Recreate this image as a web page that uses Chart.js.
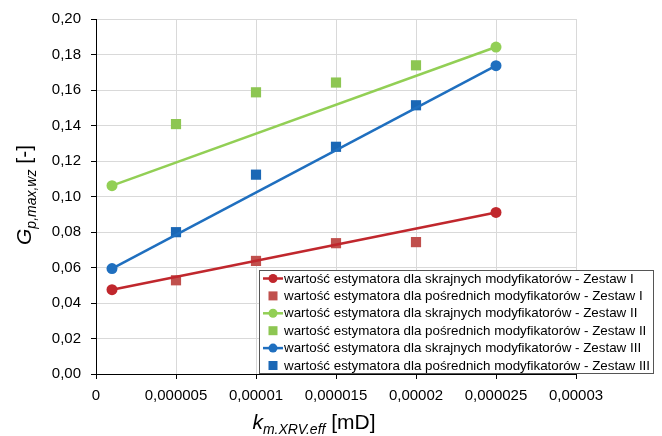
<!DOCTYPE html>
<html>
<head>
<meta charset="utf-8">
<script src="https://cdn.jsdelivr.net/npm/chart.js@4"></script>
<style>
html,body{margin:0;padding:0;background:#fff;}
#wrap{width:662px;height:436px;position:relative;}
</style>
</head>
<body>
<div id="wrap"><canvas id="c" width="662" height="436"></canvas></div>
<script>
// ---- data ----
const xTickLabels = ['0', '0,000005', '0,00001', '0,000015', '0,00002', '0,000025', '0,00003'];
const yTickLabels = ['0,00', '0,02', '0,04', '0,06', '0,08', '0,10', '0,12', '0,14', '0,16', '0,18', '0,20'];
const xExtreme = [0.000001, 0.000025];
const xMid = [0.000005, 0.00001, 0.000015, 0.00002];
const skrajneI = [0.0475, 0.0910];
const posrednieI = [0.0528, 0.0637, 0.0737, 0.0743];
const skrajneII = [0.1061, 0.1842];
const posrednieII = [0.1408, 0.1587, 0.1642, 0.1739];
const skrajneIII = [0.0594, 0.1737];
const posrednieIII = [0.0799, 0.1123, 0.1280, 0.1514];
const seriesLabels = [
  'wartość estymatora dla skrajnych modyfikatorów - Zestaw I',
  'wartość estymatora dla pośrednich modyfikatorów - Zestaw I',
  'wartość estymatora dla skrajnych modyfikatorów - Zestaw II',
  'wartość estymatora dla pośrednich modyfikatorów - Zestaw II',
  'wartość estymatora dla skrajnych modyfikatorów - Zestaw III',
  'wartość estymatora dla pośrednich modyfikatorów - Zestaw III'
];

const FONT = '"Liberation Sans", Arial, sans-serif';
const pts = (xs, ys) => xs.map((x, i) => ({x: x, y: ys[i]}));

function lineSet(label, xs, ys, color) {
  return {label, data: pts(xs, ys), showLine: true, borderColor: color, backgroundColor: color,
    borderWidth: 2.5, pointStyle: 'circle', pointRadius: 5.5, pointHoverRadius: 5.5,
    pointBorderWidth: 0, isLine: true};
}
function markSet(label, xs, ys, color) {
  return {label, data: pts(xs, ys), showLine: false, borderColor: color, backgroundColor: color,
    pointStyle: 'rect', pointRadius: 7.2, pointHoverRadius: 7.2, pointBorderWidth: 0, isLine: false};
}

const datasets = [
  lineSet(seriesLabels[0], xExtreme, skrajneI, '#C0272D'),
  markSet(seriesLabels[1], xMid, posrednieI, '#C0504D'),
  lineSet(seriesLabels[2], xExtreme, skrajneII, '#92CF55'),
  markSet(seriesLabels[3], xMid, posrednieII, '#8DC652'),
  lineSet(seriesLabels[4], xExtreme, skrajneIII, '#1F6FBF'),
  markSet(seriesLabels[5], xMid, posrednieIII, '#1A67B5')
];

function drawRich(ctx, parts) {
  let total = 0;
  parts.forEach(p => { ctx.font = p.font; p.w = ctx.measureText(p.text).width; total += p.w; });
  let x = -total / 2;
  parts.forEach(p => {
    ctx.font = p.font;
    ctx.fillText(p.text, x, p.dy || 0);
    x += p.w;
  });
}

const overlay = {
  id: 'overlay',
  afterDraw(chart) {
    const ctx = chart.ctx;
    ctx.save();
    ctx.fillStyle = '#000';
    ctx.textAlign = 'left';
    ctx.textBaseline = 'alphabetic';
    // y title
    ctx.save();
    ctx.translate(31, 195);
    ctx.rotate(-Math.PI / 2);
    drawRich(ctx, [
      {text: 'G', font: 'italic 21px ' + FONT},
      {text: 'p,max,wz', font: 'italic 14px ' + FONT, dy: 5},
      {text: ' [-]', font: '21px ' + FONT}
    ]);
    ctx.restore();
    // x title
    ctx.save();
    ctx.translate(314, 429);
    drawRich(ctx, [
      {text: 'k', font: 'italic 21px ' + FONT},
      {text: 'm.XRV.eff', font: 'italic 14px ' + FONT, dy: 5},
      {text: ' [mD]', font: '21px ' + FONT}
    ]);
    ctx.restore();

    // legend
    const bx = 259.5, by = 270.5, bw = 394, bh = 103;
    ctx.fillStyle = '#fff';
    ctx.fillRect(bx, by, bw, bh);
    ctx.strokeStyle = '#555';
    ctx.lineWidth = 1;
    ctx.strokeRect(bx, by, bw, bh);
    ctx.font = '12px ' + FONT;
    const m = ctx.measureText(seriesLabels[0]).width;
    const fs = 12 * 350 / m;
    ctx.font = fs.toFixed(2) + 'px ' + FONT;
    ctx.textBaseline = 'middle';
    chart.data.datasets.forEach((ds, i) => {
      const cy = 278.5 + i * 17.4;
      ctx.fillStyle = ds.backgroundColor;
      ctx.strokeStyle = ds.borderColor;
      if (ds.isLine) {
        ctx.lineWidth = 2.5;
        ctx.beginPath(); ctx.moveTo(263, cy); ctx.lineTo(283, cy); ctx.stroke();
        ctx.beginPath(); ctx.arc(273, cy, 4.5, 0, Math.PI * 2); ctx.fill();
      } else {
        ctx.fillRect(268.5, cy - 4.5, 9, 9);
      }
      ctx.fillStyle = '#000';
      ctx.fillText(ds.label, 284, cy + 0.5);
    });
    ctx.restore();
  }
};

new Chart(document.getElementById('c'), {
  type: 'scatter',
  data: {datasets},
  options: {
    responsive: false,
    animation: false,
    devicePixelRatio: 1,
    layout: {padding: {left: 0, right: 86, top: 16, bottom: 0}},
    plugins: {legend: {display: false}, tooltip: {enabled: false}},
    scales: {
      x: {
        type: 'linear', min: 0, max: 0.00003,
        afterFit: s => { s.height = 62; },
        afterBuildTicks: s => { s.ticks = xTickLabels.map((_, i) => ({value: i * 0.000005})); },
        ticks: {
          callback: (v, i) => xTickLabels[i],
          font: {family: FONT, size: 15}, color: '#000', padding: 8, maxRotation: 0, autoSkip: false
        },
        grid: {color: '#d9d9d9', lineWidth: 1, tickColor: '#000', tickLength: 5, drawTicks: true},
        border: {display: true, color: '#000', width: 1}
      },
      y: {
        type: 'linear', min: 0, max: 0.2,
        afterFit: s => { s.width = 96; },
        afterBuildTicks: s => { s.ticks = yTickLabels.map((_, i) => ({value: i * 0.02})); },
        ticks: {
          callback: (v, i) => yTickLabels[i],
          font: {family: FONT, size: 15}, color: '#000', padding: 10, autoSkip: false
        },
        grid: {color: '#d9d9d9', lineWidth: 1, tickColor: '#000', tickLength: 5, drawTicks: true},
        border: {display: true, color: '#000', width: 1}
      }
    }
  },
  plugins: [overlay]
});
</script>
</body>
</html>
